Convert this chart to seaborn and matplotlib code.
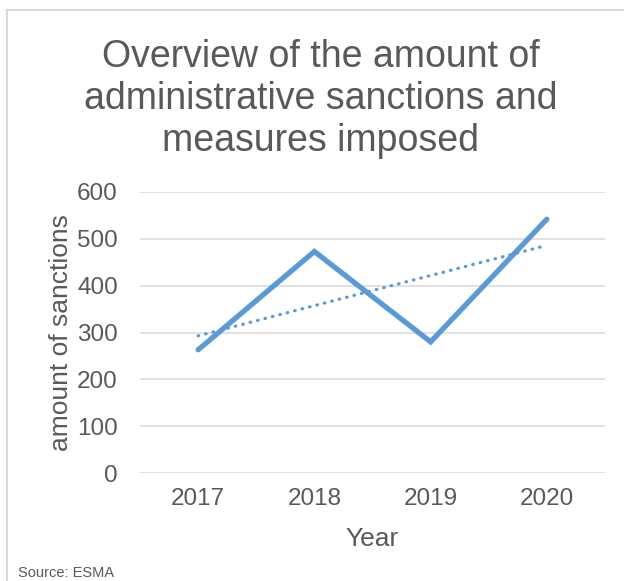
import numpy as np
import pandas as pd
import matplotlib
matplotlib.use("Agg")
import matplotlib.pyplot as plt
from matplotlib.lines import Line2D
import seaborn as sns

years = ["2017", "2018", "2019", "2020"]
sanctions = [263, 473, 280, 542]
y_ticks = [0, 100, 200, 300, 400, 500, 600]

title = "Overview of the amount of\nadministrative sanctions and\nmeasures imposed"
x_label = "Year"
y_label = "amount of sanctions"
source = "Source: ESMA"

sns.set_style("white")
plt.rcParams["font.family"] = ["Liberation Sans", "DejaVu Sans"]

df = pd.DataFrame({"pos": np.arange(len(years)), "year": years, "value": sanctions})

grey = "#595959"
blue = "#5B9BD5"

fig = plt.figure(figsize=(6.24, 5.81), dpi=100)
ax = fig.add_axes([140/624, 1 - 473/581, 465/624, (473 - 192)/581])

sns.regplot(data=df, x="pos", y="value", ax=ax, scatter=False, ci=None, truncate=True,
            line_kws=dict(color=blue, lw=2.3, linestyle=(0, (0.2, 2.2)), dash_capstyle="round"))
sns.lineplot(data=df, x="pos", y="value", ax=ax, color=blue, lw=3.8,
             solid_capstyle="round", solid_joinstyle="miter")

ax.set_xlim(-0.5, len(years) - 0.5)
ax.set_ylim(0, 600)
ax.set_xticks(df["pos"])
ax.set_xticklabels(years)
ax.set_yticks(y_ticks)
ax.yaxis.grid(True, color="#D9D9D9", lw=1.1)
ax.xaxis.grid(False)
for s in ax.spines.values():
    s.set_visible(False)
ax.tick_params(axis="both", length=0, labelsize=17.5, labelcolor=grey)
ax.tick_params(axis="y", pad=16)
ax.tick_params(axis="x", pad=11)
ax.set_xlabel(x_label, fontsize=19, color=grey, labelpad=12)
ax.set_ylabel(y_label, fontsize=19, color=grey, labelpad=3)
ax.set_axisbelow(True)

fig.text(321/624, 1 - 99/581, title, ha="center", va="center", fontsize=27,
         color=grey, linespacing=1.2)
fig.text(18/624, 1 - 573/581, source, ha="left", va="center", fontsize=10.5, color=grey)

fig.add_artist(Line2D([7/624, 7/624], [0, 1 - 9.5/581], color="#D9D9D9", lw=1.5, transform=fig.transFigure))
fig.add_artist(Line2D([7/624, 1], [1 - 9.5/581, 1 - 9.5/581], color="#D9D9D9", lw=1.5, transform=fig.transFigure))

fig.savefig("out.png", dpi=100, facecolor="white")
